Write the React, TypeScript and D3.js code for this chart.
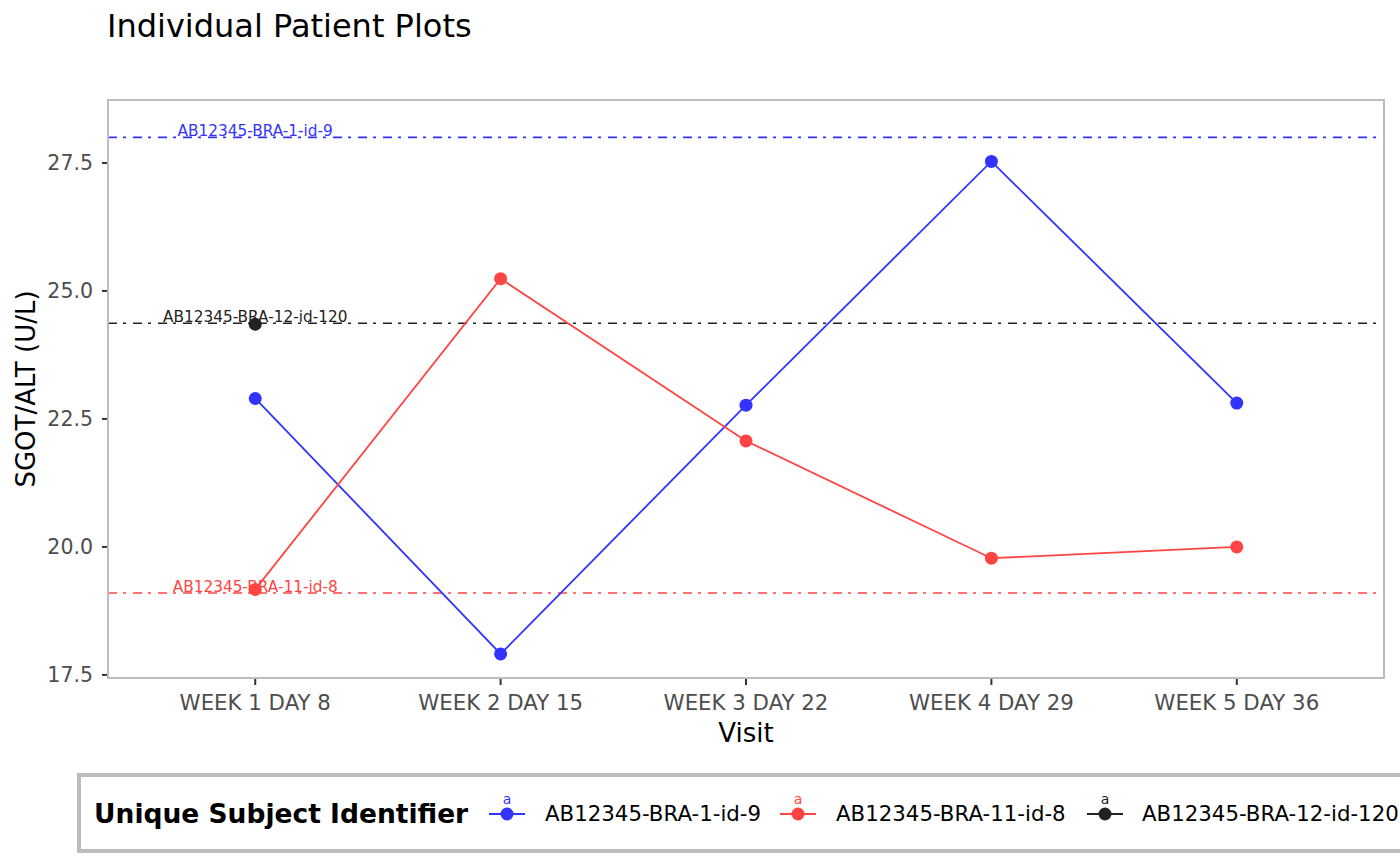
import React from 'react';
import * as d3 from 'd3';

const visits = ['WEEK 1 DAY 8', 'WEEK 2 DAY 15', 'WEEK 3 DAY 22', 'WEEK 4 DAY 29', 'WEEK 5 DAY 36'];
const subjects = ['AB12345-BRA-1-id-9', 'AB12345-BRA-11-id-8', 'AB12345-BRA-12-id-120'];
const subjectColors = ['#3333FF', '#FF4444', '#222222'];

// values per subject, null where no visit
const blueValues = [22.9, 17.91, 22.77, 27.53, 22.81];
const redValues = [19.17, 25.24, 22.07, 19.78, 20.0];
const blackValues: (number | null)[] = [24.35, null, null, null, null];
// per-subject baseline reference lines (same order as subjects)
const baselines = [28.0, 19.1, 24.37];
const yTicks = [17.5, 20.0, 22.5, 25.0, 27.5];

const W = 1400;
const H = 866;
const panel = { left: 108, top: 100, right: 1384, bottom: 678 };

export default function App() {
  const x = d3.scalePoint<string>().domain(visits).range([panel.left, panel.right]).padding(0.6);
  const y = d3.scaleLinear().domain([17.44, 28.73]).range([panel.bottom, panel.top]);

  const series = [blueValues, redValues, blackValues];
  const line = d3
    .line<number | null>()
    .defined((d) => d != null)
    .x((_, i) => x(visits[i])!)
    .y((d) => y(d as number));

  const font = 'DejaVu Sans, sans-serif';
  const legendItems = [
    { keyX: 489, labelX: 545 },
    { keyX: 780, labelX: 836 },
    { keyX: 1087, labelX: 1142 },
  ];

  return (
    <svg width={W} height={H} style={{ position: 'absolute', left: 0, top: 0, fontFamily: font }}>
      <rect width={W} height={H} fill="#fff" />
      <text x={107} y={37} fontSize={32} fill="#000">Individual Patient Plots</text>

      {/* baselines */}
      {baselines.map((b, i) => (
        <g key={'b' + i}>
          <line x1={panel.left} x2={panel.right} y1={y(b)} y2={y(b)} stroke={subjectColors[i]} strokeWidth={1.6} strokeDasharray="9 6 3 7" />
          <text x={x(visits[0])!} y={y(b) - 1} textAnchor="middle" fontSize={15.3} fill={subjectColors[i]}>{subjects[i]}</text>
        </g>
      ))}

      {series.map((s, i) => (
        <g key={'s' + i}>
          <path d={line(s) ?? ''} fill="none" stroke={subjectColors[i]} strokeWidth={1.8} />
          {s.map((v, j) =>
            v == null ? null : <circle key={j} cx={x(visits[j])} cy={y(v)} r={6.5} fill={subjectColors[i]} />
          )}
        </g>
      ))}

      <rect x={panel.left} y={panel.top} width={panel.right - panel.left} height={panel.bottom - panel.top} fill="none" stroke="#bdbdbd" strokeWidth={2} />

      {/* y axis */}
      {yTicks.map((t) => (
        <g key={t} transform={`translate(0,${y(t)})`}>
          <line x1={panel.left - 6} x2={panel.left - 1} stroke="#333" strokeWidth={2} />
          <text x={panel.left - 15} dy="0.36em" textAnchor="end" fontSize={20.5} fill="#4d4d4d">{t.toFixed(1)}</text>
        </g>
      ))}
      {/* x axis */}
      {visits.map((v) => (
        <g key={v} transform={`translate(${x(v)},0)`}>
          <line y1={panel.bottom + 1} y2={panel.bottom + 7} stroke="#333" strokeWidth={2} />
          <text y={710} textAnchor="middle" fontSize={21.3} fill="#4d4d4d">{v}</text>
        </g>
      ))}
      <text x={(panel.left + panel.right) / 2} y={742} textAnchor="middle" fontSize={26} fill="#000">Visit</text>
      <text transform={`translate(35,${(panel.top + panel.bottom) / 2}) rotate(-90)`} textAnchor="middle" fontSize={26} fill="#000">SGOT/ALT (U/L)</text>

      {/* legend */}
      <rect x={79} y={775} width={1340} height={76} fill="#fff" stroke="#bdbdbd" strokeWidth={4} />
      <text x={94} y={823} fontSize={26.5} fontWeight="bold" fill="#000">Unique Subject Identifier</text>
      {legendItems.map((it, i) => (
        <g key={'l' + i}>
          <line x1={it.keyX} x2={it.keyX + 36} y1={814} y2={814} stroke={subjectColors[i]} strokeWidth={1.8} />
          <circle cx={it.keyX + 18} cy={814} r={6.5} fill={subjectColors[i]} />
          <text x={it.keyX + 18} y={804} textAnchor="middle" fontSize={14} fill={subjectColors[i]}>a</text>
          <text x={it.labelX} y={821} fontSize={21.3} fill="#000">{subjects[i]}</text>
        </g>
      ))}
    </svg>
  );
}
